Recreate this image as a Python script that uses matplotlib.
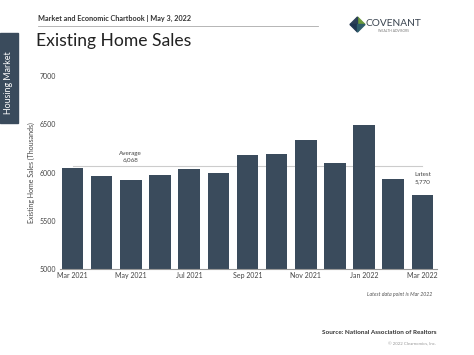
import matplotlib
matplotlib.use("Agg")
import matplotlib.pyplot as plt
from matplotlib.patches import Rectangle, Polygon

plt.rcParams['font.family'] = ['Lato', 'DejaVu Sans']

months = ["Mar 2021", "Apr 2021", "May 2021", "Jun 2021", "Jul 2021", "Aug 2021",
          "Sep 2021", "Oct 2021", "Nov 2021", "Dec 2021", "Jan 2022", "Feb 2022", "Mar 2022"]
sales = [6045, 5962, 5924, 5972, 6034, 5993, 6183, 6193, 6334, 6093, 6493, 5934, 5770]
average = 6068
yticks = [5000, 5500, 6000, 6500, 7000]

bar_color = "#3a4b5c"
text_color = "#444444"

fig = plt.figure(figsize=(4.74, 3.55), dpi=100)
W, H = 474, 355

def fx(x): return x / W
def fy(y): return 1 - y / H

ax = fig.add_axes([fx(60), fy(269.3), fx(436.7) - fx(60), fy(75.7) - fy(269.3)])
x = list(range(len(months)))
ax.bar(x, sales, width=0.74, color=bar_color, zorder=2)
ax.set_ylim(5000, 7000)
ax.set_xlim(-0.43, 12.49)
ax.set_yticks(yticks)
ax.set_yticklabels([str(v) for v in yticks], fontsize=5, color=text_color)
ax.set_xticks(x[::2])
ax.set_xticklabels(months[::2], fontsize=5, color=text_color)
ax.tick_params(axis='x', length=0, pad=2)
ax.tick_params(axis='y', length=0, pad=3)
for s in ['top', 'right', 'left']:
    ax.spines[s].set_visible(False)
ax.spines['bottom'].set_color("#999999")
ax.spines['bottom'].set_linewidth(0.8)
ax.set_ylabel("Existing Home Sales (Thousands)", fontsize=5, color=text_color, labelpad=3)

ax.plot([0, 12], [average, average], color="#cccccc", linewidth=0.8, zorder=1)
ax.text(2.0, 6165, "Average\n{:,}".format(average), ha='center', va='center',
        fontsize=4.5, color=text_color, linespacing=1.5)
ax.text(12, 5945, "Latest\n{:,}".format(sales[-1]), ha='center', va='center',
        fontsize=4.5, color=text_color, linespacing=1.5)

# Header
fig.text(fx(38), fy(18), "Market and Economic Chartbook | May 3, 2022", fontsize=5.2,
         color="#333333", fontweight='bold', va='center', ha='left')
fig.add_artist(plt.Line2D([fx(38), fx(318)], [fy(26), fy(26)], color="#aaaaaa", linewidth=0.6))
fig.text(fx(36), fy(41), "Existing Home Sales", fontsize=12.6, color="#222222",
         va='center', ha='left')

# Sidebar
fig.add_artist(Rectangle((fx(0), fy(123)), fx(18), fy(33) - fy(123), color=bar_color))
fig.text(fx(9), fy(83), "Housing Market", rotation=90, color="white", fontsize=6.4,
         va='center', ha='center')

# Logo
cx, cy, r = 357.5, 24.5, 7.5
pts = {
    't': (fx(cx), fy(cy - r)), 'b': (fx(cx), fy(cy + r)),
    'l': (fx(cx - r), fy(cy)), 'r': (fx(cx + r), fy(cy)), 'c': (fx(cx), fy(cy)),
}
fig.add_artist(Polygon([pts['t'], pts['r'], pts['c']], color="#6a9a3a"))
fig.add_artist(Polygon([pts['t'], pts['l'], pts['c']], color="#2b3f57"))
fig.add_artist(Polygon([pts['l'], pts['b'], pts['c']], color="#1f3550"))
fig.add_artist(Polygon([pts['b'], pts['r'], pts['c']], color="#2e5c6a"))
fig.text(fx(366), fy(24), "COVENANT", fontsize=7.3, color="#3a4450", va='center', ha='left')
fig.text(fx(394), fy(31), "WEALTH ADVISORS", fontsize=2.4, color="#777777", va='center', ha='center')

# Footer
fig.text(fx(432), fy(294), "Latest data point is Mar 2022", fontsize=3.8, style='italic',
         color="#555555", ha='right', va='center')
fig.text(fx(436), fy(333), "Source: National Association of Realtors", fontsize=4.6,
         fontweight='bold', color="#333333", ha='right', va='center')
fig.text(fx(436), fy(344), "\u00a9 2022 Clearnomics, Inc.", fontsize=3.2,
         color="#999999", ha='right', va='center')

fig.savefig("out.png", dpi=100, facecolor="white")
